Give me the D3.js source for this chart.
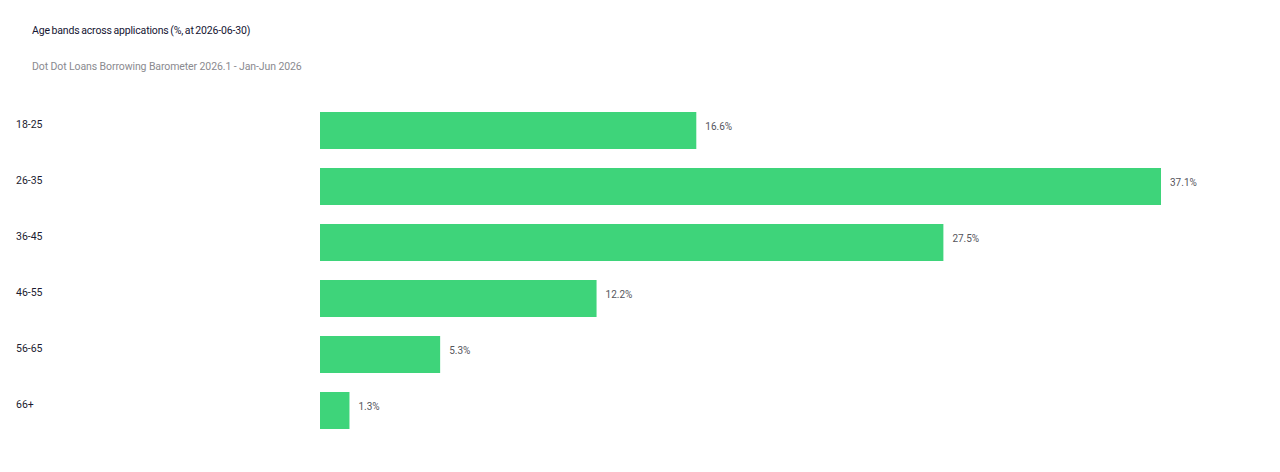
<!DOCTYPE html>
<html>
<head>
<meta charset="utf-8">
<script src="https://cdn.jsdelivr.net/npm/d3@7"></script>
<style>
  body { margin: 0; background: #fff; }
  svg { display: block; font-family: Roboto, Inter, sans-serif; }
</style>
</head>
<body>
<svg id="chart" width="1280" height="472"></svg>
<script>
// chart data
var titleText = "Age bands across applications (%, at 2026-06-30)";
var subtitleText = "Dot Dot Loans Borrowing Barometer 2026.1 - Jan-Jun 2026";
var ageBands = ["18-25", "26-35", "36-45", "46-55", "56-65", "66+"];
var shares = [16.6, 37.1, 27.5, 12.2, 5.3, 1.3];

var svg = d3.select("#chart");

// scales
var x = d3.scaleLinear()
    .domain([0, d3.max(shares)])
    .range([320, 1161]);

var y = d3.scaleBand()
    .domain(ageBands)
    .range([102.5, 438.5])
    .paddingInner(19 / 56)
    .paddingOuter(19 / 112);

// title + subtitle
svg.append("text")
    .attr("x", 32).attr("y", 34)
    .style("font-size", "10.5px")
    .style("letter-spacing", "-0.15px")
    .style("word-spacing", "-0.8px")
    .style("fill", "#141432")
    .text(titleText);

svg.append("text")
    .attr("x", 32).attr("y", 70)
    .style("font-size", "10.5px")
    .style("letter-spacing", "-0.1px")
    .style("fill", "#8a8a8f")
    .text(subtitleText);

// bars
var rows = svg.append("g").selectAll("g")
    .data(ageBands)
    .join("g");

rows.append("rect")
    .attr("x", x(0))
    .attr("y", function(d) { return y(d); })
    .attr("width", function(d, i) { return x(shares[i]) - x(0); })
    .attr("height", y.bandwidth())
    .attr("fill", "#3ed47a");

// category labels (sit a bit above bar middle)
rows.append("text")
    .attr("x", 16)
    .attr("y", function(d) { return y(d) + 16; })
    .style("font-size", "10.5px")
    .style("fill", "#1c1c30")
    .text(function(d) { return d; });

// value labels
rows.append("text")
    .attr("x", function(d, i) { return x(shares[i]) + 9; })
    .attr("y", function(d) { return y(d) + 18; })
    .style("font-size", "10px")
    .style("fill", "#55555c")
    .text(function(d, i) { return shares[i].toFixed(1) + "%"; });
</script>
</body>
</html>
